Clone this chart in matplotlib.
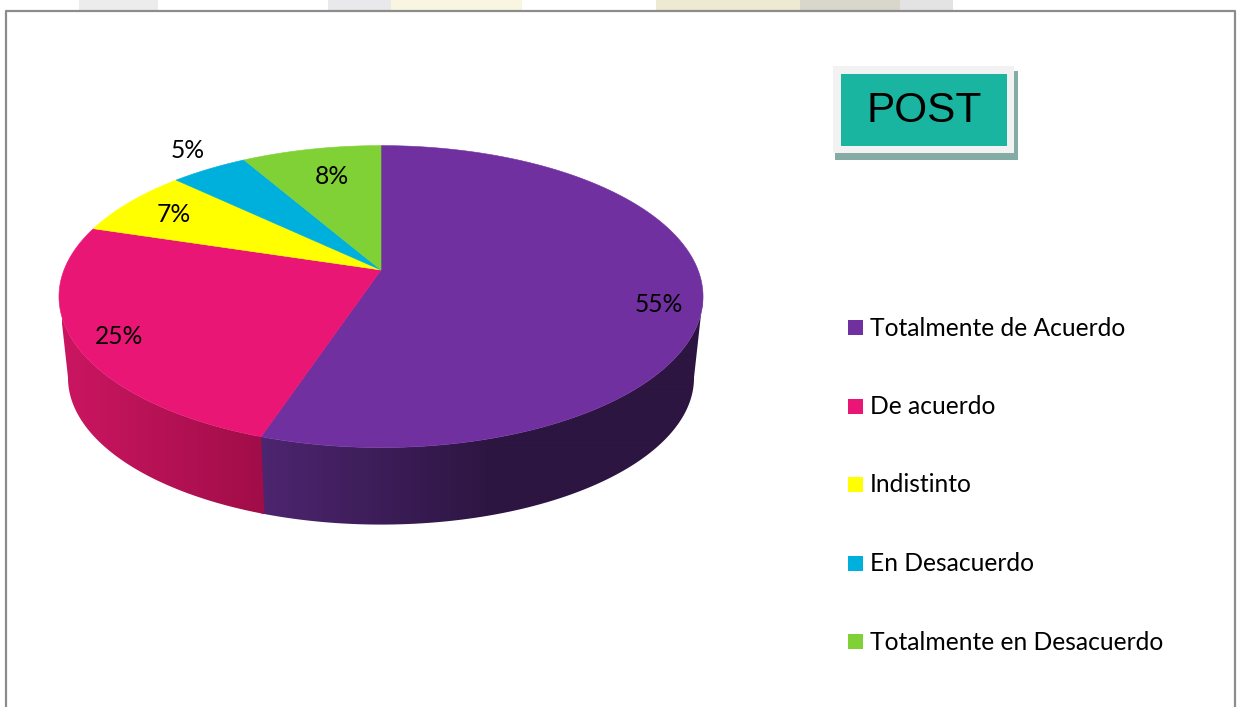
# --- POST pie chart (3D look) ---
import matplotlib
matplotlib.use('Agg')
import matplotlib.pyplot as plt
from matplotlib.colors import to_rgb
from matplotlib.patches import Polygon, Rectangle
import numpy as np

# data
labels = ['Totalmente de Acuerdo', 'De acuerdo', 'Indistinto', 'En Desacuerdo', 'Totalmente en Desacuerdo']
values = [55.1, 24.7, 7.3, 4.6, 8.3]
colors = ['#7030a0', '#e91675', '#ffff00', '#00b0dc', '#80d136']

# pixel setup
fig = plt.figure(figsize=(12.4, 7.07), dpi=100)
ax = fig.add_axes([0, 0, 1, 1])
ax.set_xlim(0, 1240)
ax.set_ylim(707, 0)
ax.axis('off')

# --- pie geometry ---
CX, CY = 381, 270   # where the slices meet
A, B, K = 317, 146.3, 0.176
LOWER_CY, LOWER_SCALE = 352, 0.972


def project(deg, cy=CY, scale=1.0):
    # clockwise degrees from the top of the pie to pixels, with perspective
    t = np.radians(deg)
    x, y = np.sin(t), np.cos(t)
    d = 1 + K * y
    return CX + scale * A * x / d, cy - scale * B * y / d


def arc(start, stop, cy=CY, scale=1.0):
    th = np.linspace(start, stop, max(int(abs(stop - start)) * 2, 2))
    return np.column_stack(project(th, cy, scale))


# --- background scraps above the frame ---
for x0, x1, c in [(79, 158, '#ececec'), (328, 391, '#e9e9ec'), (391, 522, '#f8f6e0'),
                  (656, 800, '#eee9d2'), (800, 900, '#d9d6cc'), (900, 953, '#e3e3e3')]:
    ax.add_patch(Rectangle((x0, 0), x1 - x0, 10, fc=c, ec='none', zorder=0))
ax.add_patch(Rectangle((0, 10), 1240, 697, fc='white', ec='none', zorder=0.5))
ax.plot([5.5, 5.5, 1235, 1235], [707, 10.5, 10.5, 707], color='#8c8c8c', lw=1.6, zorder=1)

# --- side wall ---
SIDE_FROM, SIDE_TO = 100, 260
bounds = np.cumsum([0] + values) * 3.6
for i in range(2):
    a0 = max(bounds[i], SIDE_FROM)
    a1 = min(bounds[i + 1], SIDE_TO)
    if i == 0:
        a1 += 0.6   # runs under the next slice so no white seam shows
    wall = np.vstack([arc(a0, a1), arc(a1, a0, LOWER_CY, LOWER_SCALE)])
    poly = Polygon(wall, closed=True, fc='none', ec='none', zorder=2)
    ax.add_patch(poly)
    if i == 0:
        ramp = np.array([to_rgb('#4d2570'), to_rgb('#2c1540'), to_rgb('#2c1540')])
        xs = np.interp(np.arange(255, 705), [262, 500, 705], [0, 1, 2])
        grad = np.array([np.interp(xs, [0, 1, 2], ramp[:, c]) for c in range(3)]).T[None, :, :]
        ext = [255, 705, 530, 290]
    else:
        ramp = np.array([to_rgb('#cb1661'), to_rgb('#a00d48')])
        xs = np.linspace(0, 1, 200)
        grad = np.array([np.interp(xs, [0, 1], ramp[:, c]) for c in range(3)]).T[None, :, :]
        ext = [62, 266, 530, 290]
    im = ax.imshow(grad, extent=ext, aspect='auto', zorder=2, interpolation='bilinear')
    im.set_clip_path(poly)
ax.set_xlim(0, 1240)
ax.set_ylim(707, 0)

# --- top of the pie ---
for i, c in enumerate(colors):
    pts = np.vstack([[CX, CY], arc(bounds[i], bounds[i + 1])])
    ax.add_patch(Polygon(pts, closed=True, fc=c, ec=c, lw=0.4, zorder=3))

# percent labels
label_pos = [(659, 305), (119, 337), (174, 214.5), (188, 151), (332, 177)]
for v, (x, y) in zip(values, label_pos):
    ax.text(x, y, f'{v:.0f}%', ha='center', va='center', fontsize=17.7, family='Lato', color='black', zorder=4)

# --- legend ---
rows = [328, 406.5, 485, 563.5, 642]
for name, c, y in zip(labels, colors, rows):
    ax.add_patch(Rectangle((848, y - 8), 15, 15, fc=c, ec='none', zorder=4))
    ax.text(869.5, y, name, ha='left', va='center', fontsize=17.7, family='Lato', color='black', zorder=4)

# --- POST box ---
ax.add_patch(Rectangle((835, 71), 183, 89, fc='#85aba5', ec='none', zorder=4))
ax.add_patch(Rectangle((833, 66), 181, 87, fc='#f2f2f2', ec='none', zorder=5))
ax.add_patch(Rectangle((841, 74), 166, 72, fc='#1ab5a0', ec='none', zorder=6))
ax.text(924, 111, 'POST', ha='center', va='center', fontsize=30.5, family='Liberation Sans', color='black', zorder=7)

fig.savefig('out.png', dpi=100)
